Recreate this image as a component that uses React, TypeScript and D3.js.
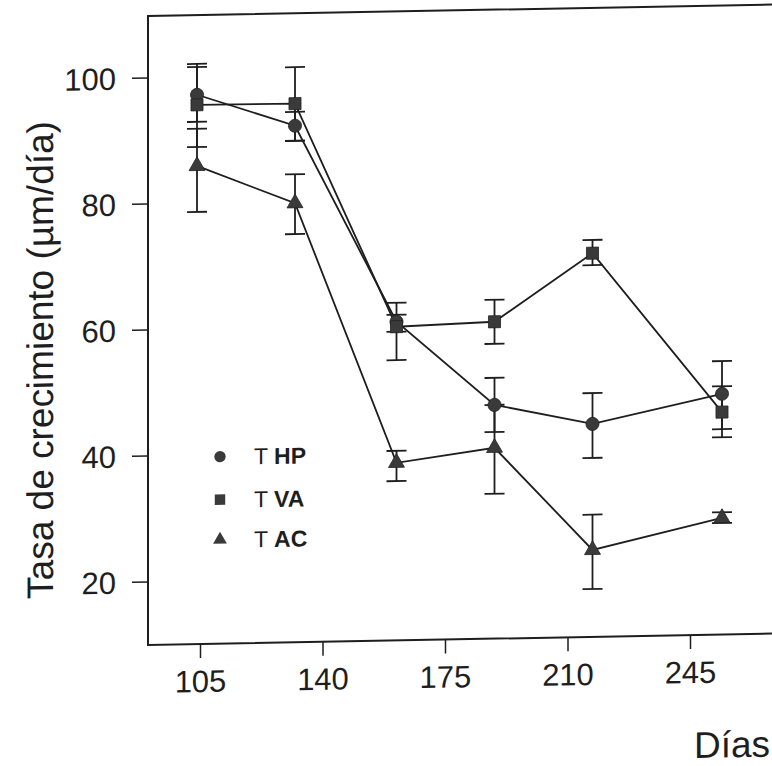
import React from 'react';
import * as d3 from 'd3';

const days = [104, 132, 161, 189, 217, 254];
const hpMean = [97.2, 92.0, 60.6, 47.1, 43.8, 48.2];
const hpHi = [102.1, 94.2, 63.6, 51.4, 48.7, 53.4];
const hpLo = [92.9, 89.6, 54.5, 42.8, 38.4, 42.6];
const vaMean = [95.6, 95.5, 59.8, 60.3, 70.9, 45.3];
const vaHi = [101.6, 101.3, 61.7, 63.8, 73.0, 49.4];
const vaLo = [88.9, 89.6, 59.0, 56.8, 69.0, 41.3];
const acMean = [85.9, 79.7, 38.2, 40.3, 23.8, 28.5];
const acHi = [91.8, 84.3, 40.1, 47.1, 29.4, 29.4];
const acLo = [78.6, 74.8, 35.3, 33.0, 17.6, 27.7];
const xTicks = [105, 140, 175, 210, 245];
const yTicks = [20, 40, 60, 80, 100];
const seriesNames = ['HP', 'VA', 'AC'];

const W = 772;
const H = 766;
const left = 148;
const bottom = 645;
const top = 15;
const FONT = '"Liberation Sans", Arial, Helvetica, sans-serif';
const INK = '#1e1e1e';

export default function App() {
  const x = d3.scaleLinear().domain([90, 270]).range([left, left + 630]);
  const y = d3.scaleLinear().domain([10, 110]).range([bottom, top]);

  const series = [
    { name: seriesNames[0], mean: hpMean, hi: hpHi, lo: hpLo, sym: d3.symbolCircle, size: 135 },
    { name: seriesNames[1], mean: vaMean, hi: vaHi, lo: vaLo, sym: d3.symbolSquare, size: 145 },
    { name: seriesNames[2], mean: acMean, hi: acHi, lo: acLo, sym: d3.symbolTriangle, size: 110 },
  ];

  const line = d3
    .line<number>()
    .x((_, i) => x(days[i]))
    .y((d) => y(d));

  const cap = 10;
  const legendY = [458, 501, 541];

  return (
    <svg
      width={W}
      height={H}
      style={{ position: 'absolute', left: 0, top: 0, background: '#fff' }}
    >
      <rect width={W} height={H} fill="#fff" />
      <g transform={`translate(${left},${bottom}) skewY(-1.05) translate(${-left},${-bottom})`}>
        {/* frame */}
        <rect
          x={left}
          y={top + 1}
          width={700}
          height={bottom - top - 1}
          fill="none"
          stroke={INK}
          strokeWidth={2}
        />
        {/* y ticks */}
        {yTicks.map((t) => (
          <g key={'y' + t}>
            <line x1={left - 16} x2={left} y1={y(t)} y2={y(t)} stroke={INK} strokeWidth={1.5} />
            <text
              x={left - 32}
              y={y(t)}
              dy="0.36em"
              textAnchor="end"
              fontFamily={FONT}
              fontSize={31}
              fill={INK}
            >
              {t}
            </text>
          </g>
        ))}
        {/* x ticks */}
        {xTicks.map((t) => (
          <g key={'x' + t}>
            <line x1={x(t)} x2={x(t)} y1={bottom} y2={bottom + 14} stroke={INK} strokeWidth={1.5} />
            <text
              x={x(t)}
              y={bottom + 48}
              textAnchor="middle"
              fontFamily={FONT}
              fontSize={31}
              fill={INK}
            >
              {t}
            </text>
          </g>
        ))}
        <text
          x={770}
          y={768}
          textAnchor="end"
          fontFamily={FONT}
          fontSize={37}
          fill={INK}
        >
          Días
        </text>
        <text
          transform={`translate(53,358) rotate(-90)`}
          textAnchor="middle"
          fontFamily={FONT}
          fontSize={37}
          fill={INK}
        >
          Tasa de crecimiento (µm/día)
        </text>

        {/* lines */}
        {series.map((s) => (
          <path key={'l' + s.name} d={line(s.mean) || ''} fill="none" stroke={INK} strokeWidth={1.8} />
        ))}
        {/* error bars */}
        {series.map((s) =>
          s.mean.map((_, i) => (
            <g key={'e' + s.name + i} stroke={INK} strokeWidth={1.8}>
              <line x1={x(days[i])} x2={x(days[i])} y1={y(s.hi[i])} y2={y(s.lo[i])} />
              <line x1={x(days[i]) - cap} x2={x(days[i]) + cap} y1={y(s.hi[i])} y2={y(s.hi[i])} />
              <line x1={x(days[i]) - cap} x2={x(days[i]) + cap} y1={y(s.lo[i])} y2={y(s.lo[i])} />
            </g>
          ))
        )}
        {/* markers */}
        {series.map((s) =>
          s.mean.map((v, i) => (
            <path
              key={'m' + s.name + i}
              d={d3.symbol(s.sym, s.size)() || ''}
              transform={`translate(${x(days[i])},${y(v)})`}
              fill="#3a3a3a"
              stroke="#222"
              strokeWidth={0.8}
            />
          ))
        )}
        {/* legend */}
        {series.map((s, i) => (
          <g key={'lg' + s.name}>
            <path
              d={d3.symbol(s.sym, s.size * 0.75)() || ''}
              transform={`translate(220,${legendY[i]})`}
              fill="#3a3a3a"
            />
            <text x={254} y={legendY[i]} dy="0.36em" fontFamily={FONT} fontSize={23} fill={INK}>
              T
              <tspan dx={6} fontWeight="bold">
                {s.name}
              </tspan>
            </text>
          </g>
        ))}
      </g>
    </svg>
  );
}
